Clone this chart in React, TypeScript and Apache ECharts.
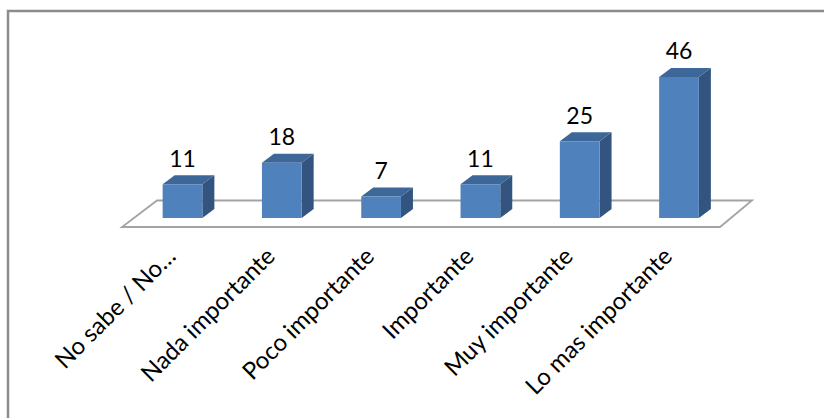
import React, { useEffect, useRef } from "react";
import * as echarts from "echarts";

const categories = [
  "No sabe / No…",
  "Nada importante",
  "Poco importante",
  "Importante",
  "Muy importante",
  "Lo mas importante",
];
const values = [11, 18, 7, 11, 25, 46];

const FONT = "Lato, 'Open Sans', sans-serif";

export default function App() {
  const ref = useRef<HTMLDivElement>(null);
  useEffect(() => {
    if (!ref.current) return;
    const chart = echarts.init(ref.current, null, { renderer: "svg" });
    const depthX = 12;
    const depthY = -9;
    chart.setOption({
      animation: false,
      backgroundColor: "#ffffff",
      graphic: [
        {
          type: "rect",
          shape: { x: 8, y: 11, width: 1000, height: 1000 },
          style: { fill: "none", stroke: "#8c8c8c", lineWidth: 2.5 },
          silent: true,
        },
      ],
      grid: { left: 132.85, right: 95.35, top: 34, bottom: 200 },
      xAxis: {
        type: "category",
        data: categories,
        axisLine: { show: false },
        axisTick: { show: false },
        splitLine: { show: false },
        axisLabel: {
          interval: 0,
          rotate: 45,
          margin: 21,
          padding: [0, 17, 0, 0],
          fontFamily: FONT,
          fontSize: 24,
          color: "#000000",
        },
      },
      yAxis: {
        type: "value",
        min: 0,
        max: 60,
        show: false,
        splitLine: { show: false },
      },
      series: [
        {
          type: "custom",
          z: 1,
          silent: true,
          data: [[0, 0]],
          encode: { x: 0, y: 1 },
          renderItem: (params: any, api: any) => {
            const a = api.coord([0, 0]);
            const b = api.coord([categories.length - 1, 0]);
            return {
              type: "polygon",
              shape: {
                points: [
                  [a[0] - 60.5, a[1] + 9],
                  [b[0] + 41, b[1] + 9],
                  [b[0] + 73, b[1] - 17.5],
                  [a[0] - 25.5, a[1] - 17.5],
                ],
              },
              style: { fill: "#ffffff", stroke: "#a3a3a3", lineWidth: 1.8 },
            };
          },
        },
        {
          type: "custom",
          z: 2,
          data: values.map((v, i) => [i, v]),
          encode: { x: 0, y: 1 },
          renderItem: (params: any, api: any) => {
            const idx = api.value(0);
            const v = api.value(1);
            const top = api.coord([idx, v]);
            const base = api.coord([idx, 0]);
            const bw = api.size([1, 0])[0] * 0.4;
            const x0 = top[0] - bw / 2;
            const x1 = top[0] + bw / 2;
            const yt = top[1];
            const yb = base[1];
            return {
              type: "group",
              children: [
                {
                  type: "polygon",
                  shape: {
                    points: [
                      [x1, yt],
                      [x1 + depthX, yt + depthY],
                      [x1 + depthX, yb + depthY],
                      [x1, yb],
                    ],
                  },
                  style: { fill: "#32547f" },
                },
                {
                  type: "polygon",
                  shape: {
                    points: [
                      [x0, yt],
                      [x0 + depthX, yt + depthY],
                      [x1 + depthX, yt + depthY],
                      [x1, yt],
                    ],
                  },
                  style: { fill: "#3d6799" },
                },
                {
                  type: "rect",
                  shape: { x: x0, y: yt, width: bw, height: yb - yt },
                  style: { fill: "#4f81bd" },
                },
                {
                  type: "text",
                  x: top[0],
                  y: yt - 15,
                  style: {
                    text: String(v),
                    fontFamily: FONT,
                    fontSize: 23,
                    fill: "#000000",
                    align: "center",
                    verticalAlign: "bottom",
                  },
                },
              ],
            };
          },
        },
      ],
    });
    return () => chart.dispose();
  }, []);
  return (
    <div
      ref={ref}
      style={{ position: "fixed", left: 0, top: 0, width: 824, height: 418 }}
    />
  );
}
